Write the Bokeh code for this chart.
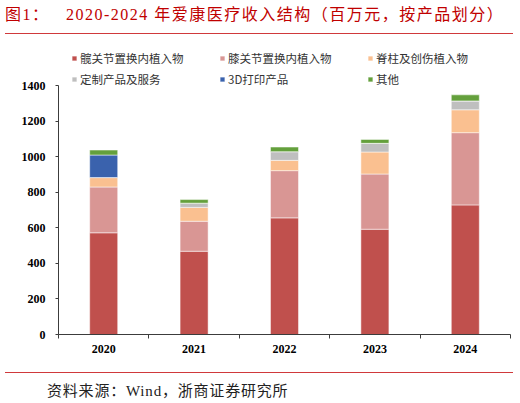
from bokeh.embed import file_html
from bokeh.layouts import column
from bokeh.models import ColumnDataSource, Div, FixedTicker, Legend, LegendItem, Range1d
from bokeh.plotting import figure
from bokeh.resources import INLINE

years = ["2020", "2021", "2022", "2023", "2024"]
hip = [573, 469, 657, 593, 730]
knee = [258, 169, 266, 311, 407]
spine = [53, 78, 58, 124, 129]
custom = [0, 24, 49, 49, 50]
printed = [127, 0, 0, 0, 0]
other = [28, 20, 26, 22, 34]

series = ["hip", "knee", "spine", "custom", "printed", "other"]
labels = ["髋关节置换内植入物", "膝关节置换内植入物", "脊柱及创伤植入物",
          "定制产品及服务", "3D打印产品", "其他"]
colors = ["#C0504D", "#D99694", "#FAC090", "#BFBFBF", "#3A62AD", "#64A03C"]
y_ticks = [0, 200, 400, 600, 800, 1000, 1200, 1400]

RED = "#C00000"
CJK = "'Liberation Serif', 'Noto Sans CJK SC'"

xs = list(range(len(years)))
source = ColumnDataSource(dict(x=xs, hip=hip, knee=knee, spine=spine,
                               custom=custom, printed=printed, other=other))

# range goes above 1400 so the legend fits inside the frame; axis is bounded to 0-1400
p = figure(width=520, height=338, x_range=Range1d(-0.5, len(years) - 0.5),
           y_range=Range1d(0, 1690), output_backend="svg", toolbar_location=None,
           min_border_left=58, min_border_right=10, min_border_top=0, min_border_bottom=38)
p.outline_line_color = None
p.grid.visible = False

bars = p.vbar_stack(series, x="x", width=0.31, fill_color=colors,
                    line_color="white", line_width=0.5, source=source)

for ax in (p.xaxis, p.yaxis):
    ax.axis_line_color = "#3C3C3C"
    ax.major_tick_line_color = "#3C3C3C"
    ax.minor_tick_line_color = "#3C3C3C"
    ax.major_label_text_font = "Liberation Serif"
    ax.major_label_text_font_style = "bold"
    ax.major_label_text_font_size = "12px"
    ax.major_label_text_color = "black"

p.xaxis.ticker = FixedTicker(ticks=xs, minor_ticks=[i - 0.5 for i in range(len(years) + 1)])
p.xaxis.major_label_overrides = {i: y for i, y in zip(xs, years)}
p.xaxis.major_tick_out = 0
p.xaxis.major_tick_in = 0
p.xaxis.minor_tick_out = 4
p.xaxis.minor_tick_in = 0
p.xaxis.major_label_standoff = 6

p.yaxis.ticker = FixedTicker(ticks=y_ticks, minor_ticks=[])
p.yaxis.bounds = (0, 1400)
p.yaxis.major_tick_out = 3
p.yaxis.major_tick_in = 0
p.yaxis.major_label_standoff = 10

legend = Legend(items=[LegendItem(label=l, renderers=[r]) for l, r in zip(labels, bars)],
                ncols=3, orientation="horizontal", location=(13, 247),
                padding=0, margin=0, spacing=5, label_width=134, label_height=14,
                glyph_width=6, glyph_height=6, label_standoff=3,
                border_line_color=None, background_fill_alpha=0,
                label_text_font="Noto Sans CJK SC", label_text_font_size="11.5px",
                label_text_color="#333333")
p.add_layout(legend, "center")

title = Div(text="图1：&nbsp;&nbsp;&nbsp;2020-2024 年爱康医疗收入结构（百万元，按产品划分）",
            width=508, height=34, margin=(0, 7, 0, 5),
            styles={"font-family": CJK, "font-size": "16px", "letter-spacing": "1.5px",
                    "color": RED, "line-height": "30px",
                    "border-bottom": "1.5px solid #D0393B"})

footer = Div(text="资料来源：Wind，浙商证券研究所", width=508, height=31, margin=(0, 7, 0, 5),
             styles={"font-family": CJK, "font-size": "15px", "letter-spacing": "0.8px",
                     "color": "#222222", "line-height": "24px", "padding-top": "6px",
                     "padding-left": "42px", "border-top": "1.5px solid #D0393B"})

layout = column(title, p, footer, spacing=0)
open("out.html", "w").write(file_html(layout, INLINE))
